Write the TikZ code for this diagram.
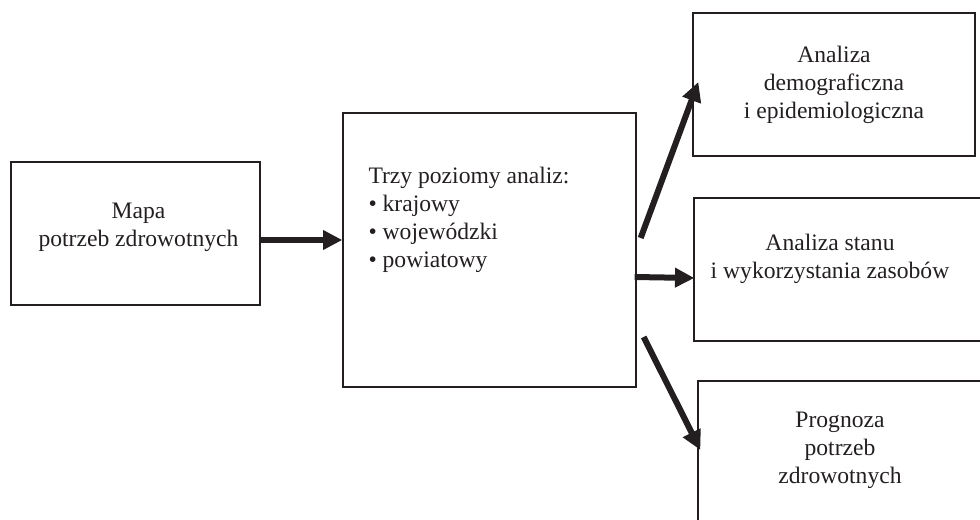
\documentclass[tikz,border=0pt]{standalone}
\usepackage{fontspec}
\setmainfont{Liberation Serif}
\usetikzlibrary{arrows.meta}
\definecolor{ink}{RGB}{35,31,32}
\tikzset{every picture/.style={line width=0.75pt}}
\tikzset{
  box/.style={draw=ink, line width=1pt, rectangle, inner sep=0pt},
  txt/.style={inner sep=0pt, text=ink, align=center, font=\fontsize{17.7pt}{21pt}\selectfont},
  arr/.style={draw=ink, line width=4.5pt, -{Triangle[length=14.5pt,width=14pt]}}
}

\begin{document}
\begin{tikzpicture}[x=0.75pt,y=-0.75pt]
\useasboundingbox (0,0) rectangle (980,520);
\clip (0,0) rectangle (980,520);

%Shape: Rectangle [mapa]
\node[box, minimum width=186.75pt, minimum height=107.25pt] (mapa) at (135.5,233.5) {};
\node[txt] (mapa-t) at (138.5,227) {Mapa\\potrzeb zdrowotnych};
%Shape: Rectangle [poziomy]
\node[box, minimum width=219.75pt, minimum height=205.5pt] (poziomy) at (489.5,250) {};
\node[txt, align=left, anchor=north west] (poziomy-t) at (368,166.5) {Trzy poziomy analiz:\\\textbullet\ krajowy\\\textbullet\ wojewódzki\\\textbullet\ powiatowy};
%Shape: Rectangle [demo]
\node[box, minimum width=211.5pt, minimum height=107.25pt] (demo) at (834,84.5) {};
\node[txt] (demo-t) at (834,84.5) {Analiza\\demograficzna\\i epidemiologiczna};
%Shape: Rectangle [zasoby]
\node[box, minimum width=229.5pt, minimum height=107.25pt] (zasoby) at (847,269.5) {};
\node[txt] (zasoby-t) at (830,259) {Analiza stanu\\i wykorzystania zasobów};
%Shape: Rectangle [prognoza]
\node[box, minimum width=226.5pt, minimum height=134.25pt] (prognoza) at (849,470.5) {};
\node[txt] (prognoza-t) at (840,450) {Prognoza\\potrzeb\\zdrowotnych};

%Straight Lines
\draw[arr] ([shift={(0,6.5)}]mapa.east) -- ([shift={(0,-10)}]poziomy.west);
\draw[arr] ([shift={(4,-12)}]poziomy.east) -- ([shift={(6,-2.5)}]demo.west);
\draw[arr] ([shift={(-2,27)}]poziomy.east) -- ([shift={(1,8.5)}]zasoby.west);
\draw[arr] ([shift={(7,87)}]poziomy.east) -- ([shift={(3,-20.5)}]prognoza.west);

\end{tikzpicture}
\end{document}
